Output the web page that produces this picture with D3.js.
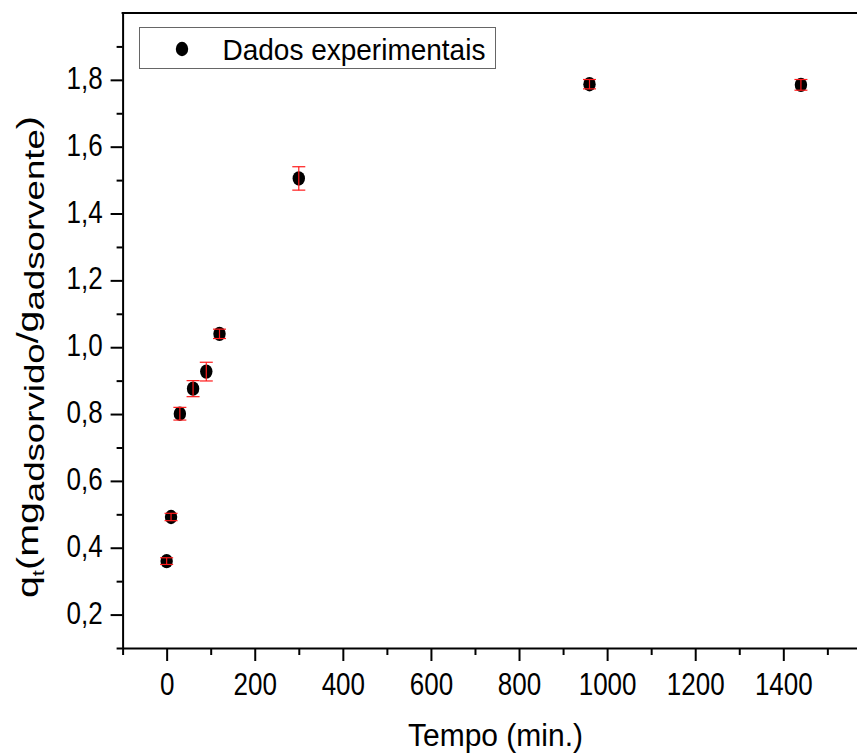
<!DOCTYPE html>
<html>
<head>
<meta charset="utf-8">
<script src="https://cdn.jsdelivr.net/npm/d3@7"></script>
<style>
  html, body { margin: 0; padding: 0; background: #ffffff; }
  svg { display: block; }
  text { font-family: "Liberation Sans", Arial, sans-serif; fill: #000; }
</style>
</head>
<body>
<svg id="chart" width="857" height="754"></svg>
<script>
// ---- data ----
const times = [0, 10, 30, 60, 90, 120, 300, 960, 1440];
const qt = [0.360, 0.492, 0.801, 0.876, 0.927, 1.040, 1.505, 1.787, 1.785];
const qtErr = [0.010, 0.011, 0.019, 0.024, 0.028, 0.014, 0.035, 0.014, 0.016];
const xMajorTicks = [0, 200, 400, 600, 800, 1000, 1200, 1400];
const xMinorTicks = [-100, 100, 300, 500, 700, 900, 1100, 1300, 1500];
const yMajorTicks = [0.2, 0.4, 0.6, 0.8, 1.0, 1.2, 1.4, 1.6, 1.8];
const yMinorTicks = [0.1, 0.3, 0.5, 0.7, 0.9, 1.1, 1.3, 1.5, 1.7, 1.9];
const legendLabel = "Dados experimentais";
const xTitle = "Tempo (min.)";

// ---- layout ----
const svg = d3.select("#chart");
const L = 122.6, T = 13, B = 648, R = 871.4;
const x = d3.scaleLinear().domain([-100, 1600]).range([L, R]);
const y = d3.scaleLinear().domain([0.1, 2.0]).range([B, T]);
const fmtY = v => d3.format(".1f")(v).replace(".", ",");

const tickSY = 1.2;

// x axis
const gx = svg.append("g").attr("transform", `translate(0,${B})`);
gx.call(d3.axisBottom(x).tickValues(xMajorTicks).tickSize(13).tickSizeOuter(0).tickFormat(d3.format("d")));
const gxm = svg.append("g").attr("transform", `translate(0,${B})`);
gxm.call(d3.axisBottom(x).tickValues(xMinorTicks).tickSize(7).tickSizeOuter(0).tickFormat(""));
gxm.select(".domain").remove();
gx.selectAll("text")
  .attr("font-size", 26).attr("font-family", "Liberation Sans, Arial, sans-serif")
  .attr("dy", 0).attr("y", 47 / tickSY)
  .attr("transform", `scale(1,${tickSY})`);

// y axis
const gy = svg.append("g").attr("transform", `translate(${L},0)`);
gy.call(d3.axisLeft(y).tickValues(yMajorTicks).tickSize(12).tickSizeOuter(0).tickFormat(fmtY));
const gym = svg.append("g").attr("transform", `translate(${L},0)`);
gym.call(d3.axisLeft(y).tickValues(yMinorTicks).tickSize(6).tickSizeOuter(0).tickFormat(""));
gym.select(".domain").remove();
gy.selectAll(".tick text")
  .attr("font-size", 26).attr("font-family", "Liberation Sans, Arial, sans-serif")
  .attr("dy", 0).attr("x", -20)
  .attr("y", 8.5 / tickSY)
  .attr("transform", `scale(1,${tickSY})`);

svg.selectAll(".domain").attr("stroke", "#000").attr("stroke-width", 2);
svg.selectAll(".tick line").attr("stroke", "#000").attr("stroke-width", 2);

// top border
svg.append("line").attr("x1", L - 1).attr("x2", R).attr("y1", T).attr("y2", T)
  .attr("stroke", "#000").attr("stroke-width", 2);

// markers
svg.append("g").selectAll("ellipse").data(times).join("ellipse")
  .attr("cx", (d) => x(d)).attr("cy", (d, i) => y(qt[i]))
  .attr("rx", 6.2).attr("ry", 7.2).attr("fill", "#000");

// error bars (drawn on top)
const eg = svg.append("g").attr("stroke", "#ff1a1a").attr("stroke-width", 1.2).attr("fill", "none");
times.forEach((t, i) => {
  const cx = x(t), y1 = y(qt[i] + qtErr[i]), y2 = y(qt[i] - qtErr[i]);
  eg.append("line").attr("x1", cx).attr("x2", cx).attr("y1", y1).attr("y2", y2);
  eg.append("line").attr("x1", cx - 6.5).attr("x2", cx + 6.5).attr("y1", y1).attr("y2", y1);
  eg.append("line").attr("x1", cx - 6.5).attr("x2", cx + 6.5).attr("y1", y2).attr("y2", y2);
});

// legend
const lg = svg.append("g");
lg.append("rect").attr("x", 139.5).attr("y", 27.5).attr("width", 356).attr("height", 41)
  .attr("fill", "#fff").attr("stroke", "#666").attr("stroke-width", 1);
lg.append("ellipse").attr("cx", 182).attr("cy", 49).attr("rx", 6.2).attr("ry", 7.2).attr("fill", "#000");
lg.append("text").attr("font-size", 28)
  .attr("transform", `translate(222.5,59.5) scale(1,1.08)`)
  .text(legendLabel);

// x title
svg.append("text").attr("font-size", 30).attr("text-anchor", "middle")
  .attr("transform", `translate(495.5,746) scale(1,1.07)`)
  .text(xTitle);

// y title
const yt = svg.append("text").attr("font-size", 30)
  .attr("transform", `translate(38,598) rotate(-90) scale(1.31,1)`);
yt.append("tspan").text("q");
yt.append("tspan").attr("font-size", 17).attr("dy", 6).text("t");
yt.append("tspan").attr("dy", -6).text("(mg");
yt.append("tspan").attr("font-size", 28).attr("dy", 6).text("adsorvido");
yt.append("tspan").attr("dy", -6).text("/g");
yt.append("tspan").attr("font-size", 28).attr("dy", 6).text("adsorvente");
yt.append("tspan").attr("dy", -6).text(")");
</script>
</body>
</html>
